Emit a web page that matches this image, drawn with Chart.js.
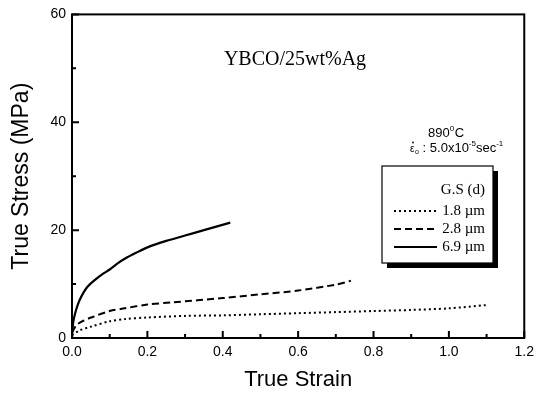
<!DOCTYPE html>
<html>
<head>
<meta charset="utf-8">
<script src="https://cdn.jsdelivr.net/npm/chart.js@4/dist/chart.umd.min.js"></script>
<style>
  html, body { margin: 0; padding: 0; background: #fff; }
  #wrap { width: 540px; height: 393px; position: relative; }
</style>
</head>
<body>
<div id="wrap"><canvas id="c"></canvas></div>
<script>
// data (true strain, true stress in MPa)
var seriesLabels = ['1.8 \u00b5m', '2.8 \u00b5m', '6.9 \u00b5m'];

var strain18 = [0, 0.02, 0.05, 0.1, 0.14, 0.2, 0.3, 0.4, 0.5, 0.6, 0.7, 0.8, 0.9, 1.0, 1.1];
var stress18 = [0.5, 1.4, 2.1, 3.1, 3.5, 3.8, 4.1, 4.2, 4.4, 4.6, 4.8, 5.0, 5.2, 5.5, 6.1];

var strain28 = [0, 0.012, 0.03, 0.055, 0.1, 0.14, 0.2, 0.265, 0.4, 0.5, 0.6, 0.7, 0.74];
var stress28 = [1.0, 2.4, 3.2, 3.9, 5.0, 5.5, 6.2, 6.6, 7.4, 8.1, 8.8, 9.9, 10.6];

var strain69 = [0, 0.003, 0.01, 0.02, 0.04, 0.065, 0.08, 0.1, 0.12, 0.14, 0.17, 0.2, 0.25, 0.3, 0.35, 0.42];
var stress69 = [0, 2.8, 5, 7, 9.4, 11.0, 11.8, 12.7, 13.8, 14.7, 15.8, 16.8, 18, 19, 20, 21.4];

var xTicks = [0, 0.2, 0.4, 0.6, 0.8, 1.0, 1.2];
var yTicks = [0, 20, 40, 60];

function pts(xs, ys) {
  return xs.map(function(x, i) { return { x: x, y: ys[i] }; });
}

var SANS = '"Liberation Sans", Arial, sans-serif';
var SERIF = '"Liberation Serif", "DejaVu Serif", serif';

// frame, inward ticks, text notes and the shadowed legend box
var decor = {
  id: 'decor',
  afterDraw: function(chart) {
    var ctx = chart.ctx, a = chart.chartArea;
    var xs = chart.scales.x, ys = chart.scales.y;
    ctx.save();
    ctx.strokeStyle = '#000';
    ctx.lineWidth = 2;
    ctx.strokeRect(a.left, a.top, a.right - a.left, a.bottom - a.top);

    ctx.beginPath();
    for (var v = 0; v <= 1.2001; v += 0.1) {
      var px = xs.getPixelForValue(v);
      var len = (Math.round(v * 10) % 2 === 0) ? 7 : 4;
      ctx.moveTo(px, a.bottom); ctx.lineTo(px, a.bottom - len);
    }
    for (var w = 0; w <= 60; w += 10) {
      var py = ys.getPixelForValue(w);
      var len2 = (w % 20 === 0) ? 7 : 4;
      ctx.moveTo(a.left, py); ctx.lineTo(a.left + len2, py);
    }
    ctx.stroke();

    // title inside plot
    ctx.fillStyle = '#000';
    ctx.font = '20px ' + SERIF;
    ctx.textAlign = 'center';
    ctx.textBaseline = 'alphabetic';
    ctx.fillText('YBCO/25wt%Ag', 295, 65);

    // test conditions
    ctx.textAlign = 'left';
    ctx.font = '13px ' + SANS;
    var x1 = 428;
    ctx.fillText('890', x1, 137);
    var w1 = ctx.measureText('890').width;
    ctx.font = '8px ' + SANS;
    ctx.fillText('0', x1 + w1, 131);
    ctx.font = '13px ' + SANS;
    ctx.fillText('C', x1 + w1 + 5, 137);

    var x2 = 410, b2 = 152;
    ctx.font = '10px ' + SANS;
    ctx.fillText('\u03b5', x2, b2);
    ctx.beginPath();
    ctx.arc(x2 + 3, b2 - 9.5, 0.9, 0, Math.PI * 2);
    ctx.fill();
    ctx.font = '7px ' + SANS;
    ctx.fillText('o', x2 + 5, b2 + 2);
    ctx.font = '13px ' + SANS;
    var s = ' : 5.0x10';
    ctx.fillText(s, x2 + 9, b2);
    var cx = x2 + 9 + ctx.measureText(s).width;
    ctx.font = '8px ' + SANS;
    ctx.fillText('-5', cx, b2 - 6);
    cx += ctx.measureText('-5').width;
    ctx.font = '13px ' + SANS;
    ctx.fillText('sec', cx, b2);
    cx += ctx.measureText('sec').width;
    ctx.font = '8px ' + SANS;
    ctx.fillText('-1', cx, b2 - 6);

    // legend box with shadow
    var bx = 382, by = 166, bw = 111, bh = 97;
    ctx.fillStyle = '#000';
    ctx.fillRect(bx + 5, by + 5, bw, bh);
    ctx.fillStyle = '#fff';
    ctx.fillRect(bx, by, bw, bh);
    ctx.lineWidth = 1.2;
    ctx.strokeRect(bx, by, bw, bh);

    ctx.fillStyle = '#000';
    ctx.font = '15px ' + SERIF;
    ctx.textAlign = 'right';
    ctx.textBaseline = 'middle';
    ctx.fillText('G.S (d)', bx + bw - 8, by + 24);
    chart.data.datasets.forEach(function(ds, i) {
      var yy = by + 45 + i * 18;
      ctx.save();
      ctx.lineWidth = ds.borderWidth;
      ctx.setLineDash(ds.borderDash || []);
      ctx.beginPath();
      ctx.moveTo(bx + 12, yy); ctx.lineTo(bx + 55, yy);
      ctx.stroke();
      ctx.restore();
      ctx.fillText(ds.label, bx + bw - 8, yy);
    });
    ctx.restore();
  }
};

var lineBase = { showLine: true, pointRadius: 0, fill: false, tension: 0.3, borderColor: '#000' };

new Chart(document.getElementById('c'), {
  type: 'scatter',
  data: {
    datasets: [
      Object.assign({ label: seriesLabels[0], data: pts(strain18, stress18), borderWidth: 2, borderDash: [2, 3] }, lineBase),
      Object.assign({ label: seriesLabels[1], data: pts(strain28, stress28), borderWidth: 2, borderDash: [7, 4] }, lineBase),
      Object.assign({ label: seriesLabels[2], data: pts(strain69, stress69), borderWidth: 2.2 }, lineBase)
    ]
  },
  options: {
    responsive: true,
    maintainAspectRatio: false,
    animation: false,
    layout: { padding: { top: 14, right: 10, left: 0, bottom: 0 } },
    plugins: { legend: { display: false }, tooltip: { enabled: false } },
    scales: {
      x: {
        type: 'linear', min: 0, max: 1.2,
        afterBuildTicks: function(axis) { axis.ticks = xTicks.map(function(v) { return { value: v }; }); },
        afterFit: function(axis) { axis.height = 55; },
        grid: { display: false, drawTicks: false },
        border: { display: false },
        ticks: {
          color: '#000', padding: 6,
          font: { family: SANS, size: 14 },
          callback: function(v) { return v.toFixed(1); }
        },
        title: {
          display: true, text: 'True Strain', color: '#000', padding: { top: 4, bottom: 0 },
          font: { family: SANS, size: 22 }
        }
      },
      y: {
        type: 'linear', min: 0, max: 60,
        afterBuildTicks: function(axis) { axis.ticks = yTicks.map(function(v) { return { value: v }; }); },
        afterFit: function(axis) { axis.width = 72; },
        grid: { display: false, drawTicks: false },
        border: { display: false },
        ticks: {
          color: '#000', padding: 6,
          font: { family: SANS, size: 14 }
        },
        title: {
          display: true, text: 'True Stress (MPa)', color: '#000', padding: { top: 8, bottom: 4 },
          font: { family: SANS, size: 23 }
        }
      }
    }
  },
  plugins: [decor]
});
</script>
</body>
</html>
